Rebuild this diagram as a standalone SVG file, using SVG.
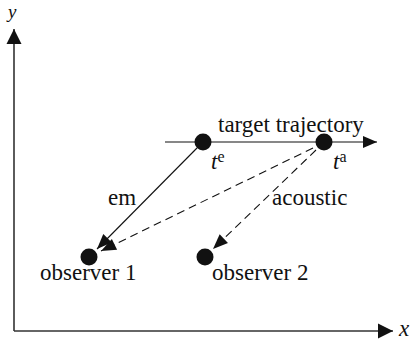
<svg xmlns="http://www.w3.org/2000/svg" width="411" height="343" viewBox="0 0 411 343">
<style>
text{font-family:"Liberation Serif","Times New Roman",serif;font-size:23px;fill:#111}
.it{font-style:italic}
.sup{font-size:16px;font-style:normal}
.axis{stroke:#333;stroke-width:1.6;fill:none}
.ln{stroke:#111;stroke-width:1.1;fill:none}
.dash{stroke-dasharray:8 5}
.dot{fill:#111}
</style>
<defs>
<marker id="ah-axis" markerUnits="userSpaceOnUse" markerWidth="15" markerHeight="15" refX="15" refY="7.5" orient="auto" overflow="visible">
<path d="M0,0 L15,7.5 L0,15 z" fill="#111"/>
</marker>
<marker id="ah-traj" markerUnits="userSpaceOnUse" markerWidth="14" markerHeight="12" refX="14" refY="6" orient="auto" overflow="visible">
<path d="M0,0 L14,6 L0,12 z" fill="#111"/>
</marker>
<marker id="ah" markerUnits="userSpaceOnUse" markerWidth="15" markerHeight="12" refX="15" refY="6" orient="auto" overflow="visible">
<path d="M0,0 L15,6 L0,12 z" fill="#111"/>
</marker>
</defs>
<g id="axes">
<line class="axis" x1="14" y1="331" x2="14" y2="29" marker-end="url(#ah-axis)"/>
<line class="axis" x1="14" y1="331" x2="393" y2="331" marker-end="url(#ah-axis)"/>
<text class="it" x="8" y="18" style="font-size:19px">y</text>
<text class="it" x="399" y="336">x</text>
</g>
<g id="connectors">
<line class="ln" x1="165" y1="142" x2="377" y2="142" marker-end="url(#ah-traj)"/>
<line class="ln" x1="197" y1="148" x2="97" y2="249" marker-end="url(#ah)"/>
<line class="ln dash" x1="313" y1="148" x2="101" y2="251" marker-end="url(#ah)"/>
<line class="ln dash" x1="316" y1="150" x2="213" y2="249" marker-end="url(#ah)"/>
</g>
<g id="trajectory-label">
<text x="218" y="132">target trajectory</text>
</g>
<g id="te">
<circle class="dot" cx="203" cy="142" r="8.5"/>
<text class="it" x="211" y="169">t<tspan class="sup" dy="-7">e</tspan></text>
</g>
<g id="ta">
<circle class="dot" cx="324" cy="142" r="8.5"/>
<text class="it" x="333" y="169">t<tspan class="sup" dy="-7">a</tspan></text>
</g>
<g id="em-label">
<text x="108" y="205">em</text>
</g>
<g id="acoustic-label">
<text x="272" y="205">acoustic</text>
</g>
<g id="observer1">
<circle class="dot" cx="89" cy="257" r="8.5"/>
<text x="40" y="280">observer 1</text>
</g>
<g id="observer2">
<circle class="dot" cx="205" cy="257" r="8.5"/>
<text x="212" y="280">observer 2</text>
</g>
</svg>
